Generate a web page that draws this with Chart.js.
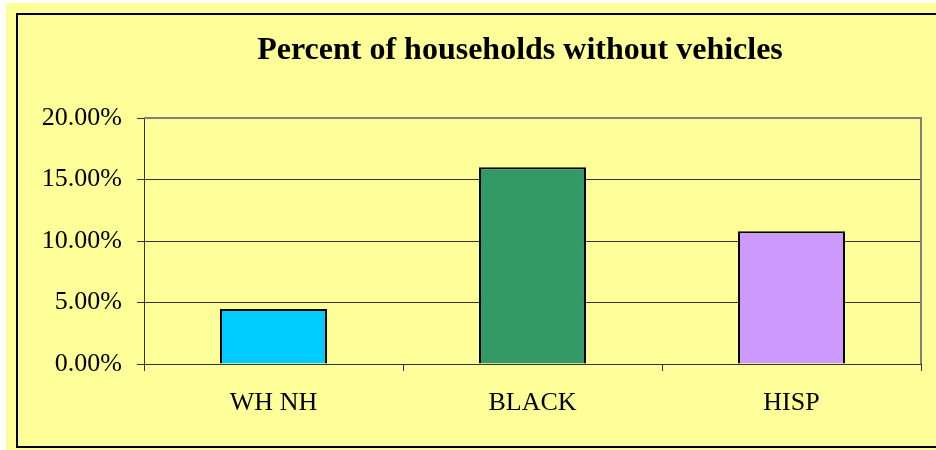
<!DOCTYPE html>
<html>
<head>
<meta charset="utf-8">
<script src="https://cdn.jsdelivr.net/npm/chart.js@4/dist/chart.umd.min.js"></script>
<style>
  html, body { margin: 0; padding: 0; background: #fff; }
  #wrap { position: relative; width: 936px; height: 450px; overflow: hidden; }
  #bg { position: absolute; left: 6px; top: 3px; width: 930px; height: 447px; background: #FFFF99; }
  #frame { position: absolute; left: 16px; top: 13px; width: 940px; height: 431px; border: 2px solid #000; }
  #chart { position: absolute; left: 0; top: 0; }
</style>
</head>
<body>
<div id="wrap">
  <div id="bg"></div>
  <div id="frame"></div>
  <canvas id="chart" width="936" height="450"></canvas>
</div>
<script>
// ===== Percent of households without vehicles =====
const chartTitle = 'Percent of households without vehicles';
const categories = ['WH NH', 'BLACK', 'HISP'];
const shares = [4.47, 16.0, 10.8];
const barColors = ['#00CCFF', '#339966', '#CC99FF'];
const yTicks = [0, 5, 10, 15, 20];

// gray frame on top/right of the plot + title drawn off-center like the original
const plotFrame = {
    id: 'plotFrame',
    beforeDatasetsDraw(chart) {
        const { ctx, chartArea: a } = chart;
        ctx.save();
        ctx.strokeStyle = '#808080';
        ctx.lineWidth = 2;
        ctx.beginPath();
        ctx.moveTo(a.left, a.top);
        ctx.lineTo(a.right, a.top);
        ctx.lineTo(a.right, a.bottom);
        ctx.stroke();
        ctx.restore();
    },
    afterDraw(chart) {
        const ctx = chart.ctx;
        ctx.save();
        ctx.fillStyle = '#000';
        ctx.font = 'bold 32px "Liberation Serif"';
        ctx.textAlign = 'center';
        ctx.textBaseline = 'alphabetic';
        ctx.fillText(chartTitle, 520, 59);
        ctx.restore();
    }
};

const ctx = document.getElementById('chart');
new Chart(ctx, {
    type: 'bar',
    data: {
        labels: categories,
        datasets: [{
            data: shares,
            backgroundColor: barColors,
            borderColor: '#000',
            borderWidth: 2,
            barPercentage: 0.413,
            categoryPercentage: 1.0
        }]
    },
    options: {
        responsive: false,
        animation: false,
        layout: { padding: { left: 0, right: 15, top: 118, bottom: 0 } },
        plugins: {
            legend: { display: false },
            tooltip: { enabled: false },
            title: { display: false }
        },
        scales: {
            y: {
                min: 0,
                max: 20,
                afterFit: (s) => { s.width = 144; },
                afterBuildTicks: (s) => { s.ticks = yTicks.map(v => ({ value: v })); },
                ticks: {
                    color: '#000',
                    padding: 15,
                    font: { family: 'Liberation Serif', size: 26 },
                    callback: (v) => v.toFixed(2) + '%'
                },
                grid: {
                    color: (c) => (c.tick && c.tick.value === 20) ? 'rgba(0,0,0,0)' : '#333',
                    tickColor: '#333',
                    tickLength: 7,
                    lineWidth: 1
                },
                border: { color: '#333', width: 1 }
            },
            x: {
                afterFit: (s) => { s.height = 86; },
                ticks: {
                    color: '#000',
                    padding: 17,
                    font: { family: 'Liberation Serif', size: 26 }
                },
                grid: {
                    drawOnChartArea: false,
                    drawTicks: true,
                    tickLength: 7,
                    tickColor: '#333'
                },
                border: { color: '#333', width: 1 }
            }
        }
    },
    plugins: [plotFrame]
});
</script>
</body>
</html>
